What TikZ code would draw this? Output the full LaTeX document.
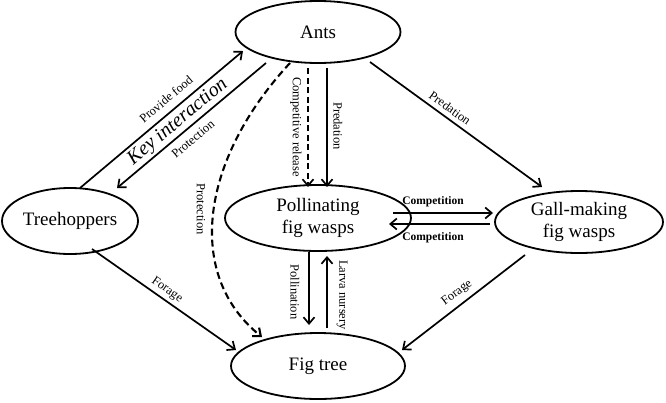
\documentclass[tikz,border=0pt]{standalone}
\usepackage{fontspec}
\setmainfont{Liberation Serif}
\usetikzlibrary{shapes.geometric,arrows.meta}
\begin{document}
\begin{tikzpicture}[x=1pt,y=-1pt,
  eco/.style={draw, ellipse, line width=1.8pt, inner sep=0pt, align=center,
    font=\fontsize{19}{21.5}\selectfont},
  link/.style={line width=1.7pt, -{Straight Barb[length=6.5pt,width=11pt]}},
  dlink/.style={link, dash pattern=on 6pt off 3.5pt},
  lbl/.style={font=\fontsize{12.5}{14}\selectfont, inner sep=0pt},
  blbl/.style={font=\bfseries\fontsize{11.5}{14}\selectfont, inner sep=0pt}]
\useasboundingbox (0,0) rectangle (666,402);
% species
\node[eco, minimum width=165pt, minimum height=62pt] (ants) at (318,32) {Ants};
\node[eco, minimum width=136pt, minimum height=66pt] (th) at (70,221) {Treehoppers};
\node[eco, minimum width=186pt, minimum height=66pt] (poll) at (318,218) {Pollinating\\fig wasps};
\node[eco, minimum width=168pt, minimum height=62pt] (gall) at (579,222) {Gall-making\\fig wasps};
\node[eco, minimum width=174pt, minimum height=66pt] (fig) at (318,366) {Fig tree};
% interactions
\draw[link] ([shift={(10,-33)}]th.center) -- ([shift={(-75,19)}]ants.center);
\draw[link] ([shift={(-52,31)}]ants.center) -- ([shift={(47,-33)}]th.center);
\draw[dlink] ([shift={(-10,36)}]ants.center) -- ([shift={(-10,-31)}]poll.center);
\draw[link] ([shift={(9,36)}]ants.center) -- ([shift={(9,-31)}]poll.center);
\draw[link] ([shift={(52,30)}]ants.center) -- ([shift={(-37,-35)}]gall.center);
\draw[link] ([shift={(75,-5)}]poll.center) -- ([shift={(-86,-9)}]gall.center);
\draw[link] ([shift={(-89,2)}]gall.center) -- ([shift={(71,6)}]poll.center);
\draw[link] ([shift={(-9,34)}]poll.center) -- ([shift={(-9,-41)}]fig.center);
\draw[link] ([shift={(9,-38)}]fig.center) -- ([shift={(9,38)}]poll.center);
\draw[link] ([shift={(22,28)}]th.center) -- ([shift={(-82,-16)}]fig.center);
\draw[link] ([shift={(-54,33)}]gall.center) -- ([shift={(84,-16)}]fig.center);
\draw[dlink, line width=2.1pt, dash pattern=on 7pt off 4pt]
  ([shift={(-28,31)}]ants.center) .. controls (200,160) and (185,275) .. ([shift={(-56,-29)}]fig.center);
% labels
\node[lbl, rotate=40] (lpf) at (166,99) {Provide food};
\node[font=\itshape\fontsize{20}{24}\selectfont, rotate=40, inner sep=0pt] (lki) at (178,122) {Key interaction};
\node[lbl, rotate=40] (lpr) at (193,139) {Protection};
\node[lbl, rotate=-90] (lcr) at (296,127) {Competitive release};
\node[lbl, rotate=-90] (lpd) at (338,126) {Predation};
\node[lbl, rotate=-90] (lpt) at (201,209) {Protection};
\node[lbl, rotate=-36] (lpg) at (450,108) {Predation};
\node[blbl] (lc1) at (433,202) {Competition};
\node[blbl] (lc2) at (433,238) {Competition};
\node[lbl, rotate=-90] (lpo) at (295,292) {Pollination};
\node[lbl, rotate=-90] (lln) at (342,295) {Larva nursery};
\node[lbl, rotate=-35] (lf1) at (167,290) {Forage};
\node[lbl, rotate=37] (lf2) at (457,293) {Forage};
\end{tikzpicture}
\end{document}
